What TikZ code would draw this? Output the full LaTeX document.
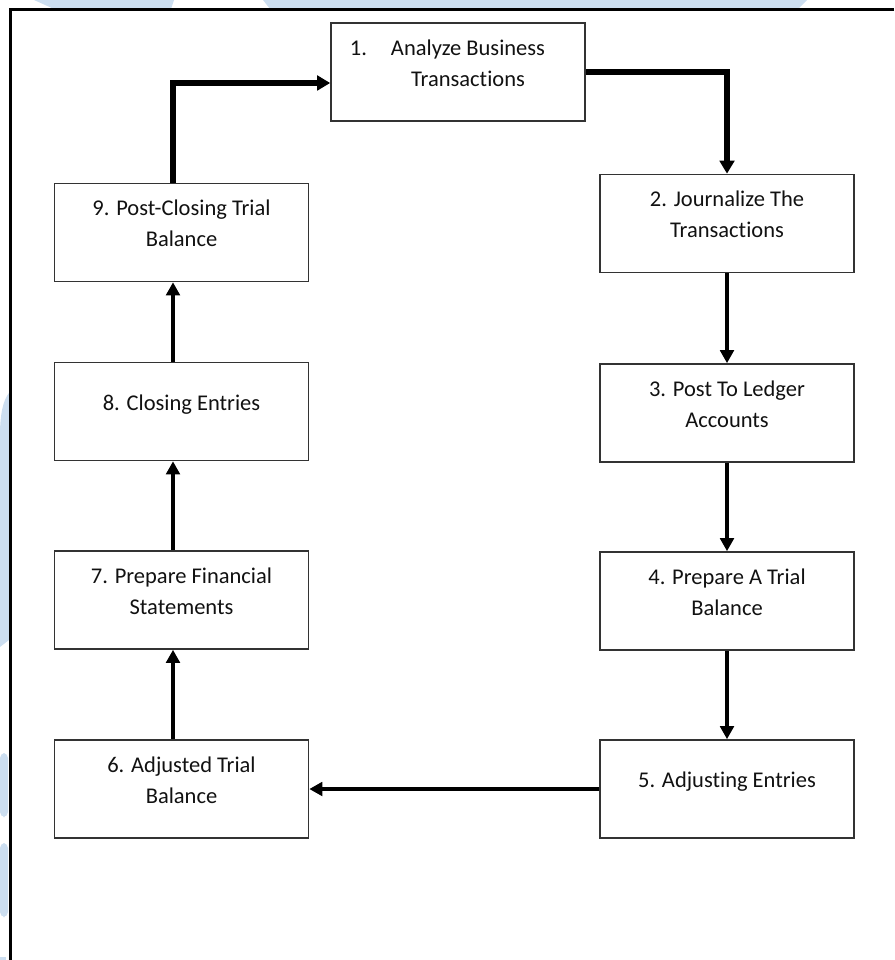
\documentclass[tikz,border=0pt]{standalone}
\usepackage{fontspec}
\setmainfont{Carlito}[Ligatures=NoCommon]
\usepackage{tikz}
\usetikzlibrary{arrows.meta,calc}
\definecolor{texto}{HTML}{111111}
\definecolor{borde}{HTML}{333333}
\definecolor{marca}{HTML}{CCDEF0}
\tikzset{
  etapa/.style   = {draw=borde, line width=0.32mm, align=center, text=texto,
                    font=\fontsize{12.8}{17.6}\selectfont,
                    minimum width=50.8mm, minimum height=19.6mm,
                    text depth=3.7mm, inner sep=0pt},
  flecha/.style  = {-{Triangle[length=2.6mm,width=2.7mm]}, line width=0.85mm},
  flechag/.style = {-{Triangle[length=2.6mm,width=2.9mm]}, line width=1.1mm},
  marco/.style   = {line width=0.6mm},
}

\begin{document}
\begin{tikzpicture}[x=0.2mm,y=-0.2mm]
  \useasboundingbox (0,0) rectangle (894,960);
  % restos de la marca de agua
  \fill[marca] (34,0) -- (174,0) -- (171,9) -- (54,9) -- cycle;
  \fill[marca] (263,0) -- (807,0) -- (798,9) -- (270,9) -- cycle;
  \fill[marca] (9,393) .. controls (3,400) and (0,415) .. (0,435) -- (0,647) -- (9,640) -- cycle;
  \fill[marca, rounded corners=1mm] (0,753) rectangle (8,817);
  \fill[marca, rounded corners=1mm] (0,843) rectangle (8,917);
  \fill[marca] (0,957) rectangle (6,960);
  \draw[marco] (894,10) -- (10,10) -- (10,960);

  \node[etapa] (P1) at (458,72) {1.\hspace{4.8mm}Analyze Business\hspace*{4.2mm}\\\hspace*{4mm}Transactions};
  \node[etapa] (P2) at (727,223.5) {2. Journalize The\\Transactions};
  \node[etapa] (P3) at (727,413) {3. Post To Ledger\\Accounts};
  \node[etapa] (P4) at (727,601) {4. Prepare A Trial\\Balance};
  \node[etapa] (P5) at (727,789) {5. Adjusting Entries};
  \node[etapa] (P6) at (181.5,789) {6. Adjusted Trial\\Balance};
  \node[etapa] (P7) at (181.5,600) {7. Prepare Financial\\Statements};
  \node[etapa] (P8) at (181.5,411.5) {8. Closing Entries};
  \node[etapa] (P9) at (181.5,232.5) {9. Post-Closing Trial\\Balance};

  \draw[flechag] (P1.east) -| (P2.north);
  \draw[flecha] (P2) -- (P3);
  \draw[flecha] (P3) -- (P4);
  \draw[flecha] (P4) -- (P5);
  \draw[flecha] (P5) -- (P6);
  \draw[flecha] ([xshift=-1.7mm]P6.north) -- ([xshift=-1.7mm]P7.south);
  \draw[flecha] ([xshift=-1.7mm]P7.north) -- ([xshift=-1.7mm]P8.south);
  \draw[flecha] ([xshift=-1.7mm]P8.north) -- ([xshift=-1.7mm]P9.south);
  \draw[flechag] ([xshift=-1.7mm]P9.north) |- ([yshift=-2.2mm]P1.west);
\end{tikzpicture}
\end{document}
